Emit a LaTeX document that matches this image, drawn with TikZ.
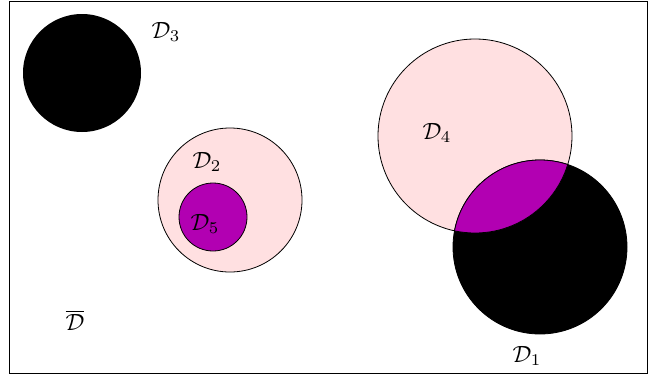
\documentclass[tikz,border=0pt]{standalone}
\usepackage{graphicx}
\definecolor{lightpink}{RGB}{255,224,225}
\definecolor{lensviolet}{RGB}{178,0,178}
\newcommand{\biglbl}[1]{\scalebox{2.35}{$#1$}}
\begin{document}
\begin{tikzpicture}[x=1pt,y=-1pt,
  lbl/.style={inner sep=0pt},
  edge/.style={draw=black,line width=0.8pt}]
\useasboundingbox (0,0) rectangle (648,378);
\draw[line width=0.8pt] (9,1) rectangle (647,373);
% D3
\fill[black] (82,73) circle (59);
% D2 and D5
\filldraw[edge,fill=lightpink] (230,200) circle (72);
\filldraw[edge,fill=lensviolet] (213,217) circle (34);
% D4 and D1
\filldraw[edge,fill=lightpink] (475,136) circle (97);
\filldraw[edge,fill=black] (540,247) circle (87);
\begin{scope}
  \clip (475,136) circle (97);
  \fill[lensviolet] (540,247) circle (87);
\end{scope}
\begin{scope}
  \clip (475,136) circle (97.4);
  \draw[edge] (540,247) circle (87);
\end{scope}
\begin{scope}
  \clip (540,247) circle (87.4);
  \draw[edge] (475,136) circle (97);
\end{scope}
% labels
\node[lbl] (l3) at (166,32) {\biglbl{\mathcal{D}_3}};
\node[lbl] (l2) at (207,162) {\biglbl{\mathcal{D}_2}};
\node[lbl] (l5) at (205,224) {\biglbl{\mathcal{D}_5}};
\node[lbl] (l4) at (437,133) {\biglbl{\mathcal{D}_4}};
\node[lbl] (l1) at (527,356) {\biglbl{\mathcal{D}_1}};
\node[lbl] (lb) at (75,320) {\biglbl{\overline{\mathcal{D}}}};
\end{tikzpicture}
\end{document}
